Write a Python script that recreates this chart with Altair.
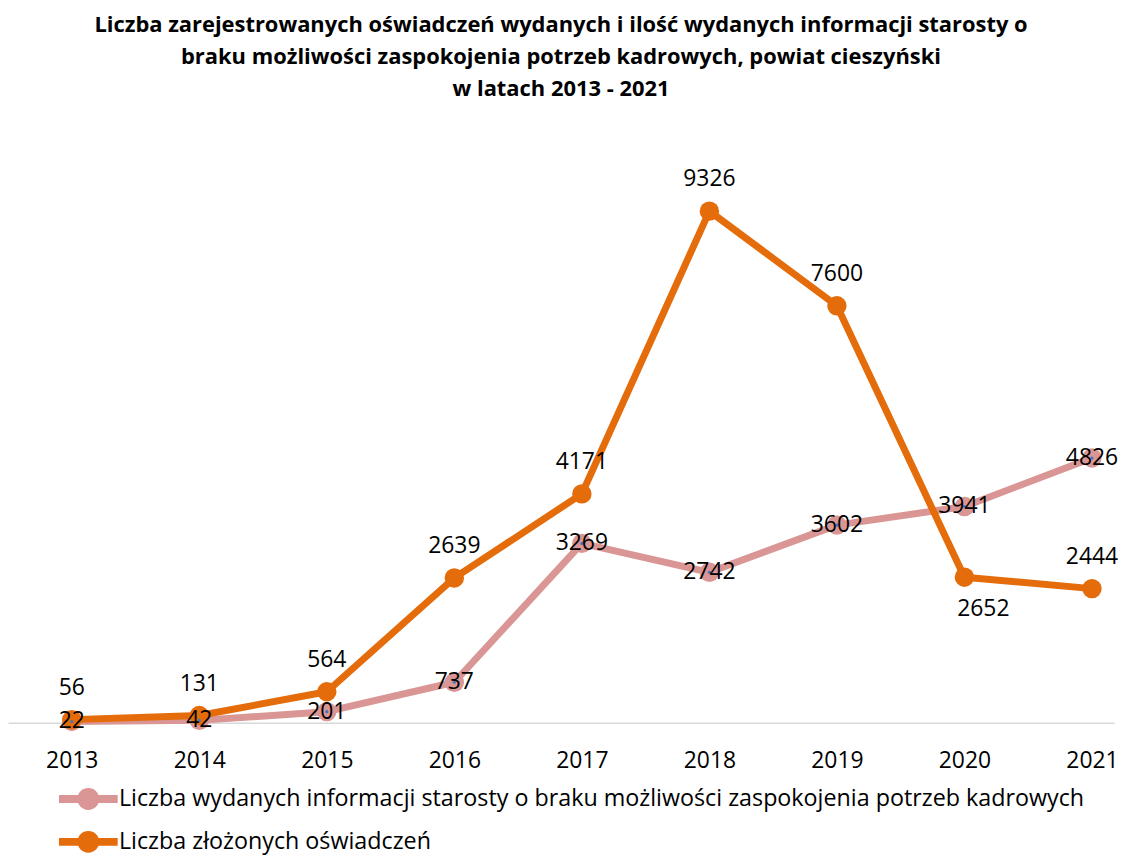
import altair as alt
import pandas as pd

years = [2013, 2014, 2015, 2016, 2017, 2018, 2019, 2020, 2021]
informacje = [22, 42, 201, 737, 3269, 2742, 3602, 3941, 4826]
oswiadczenia = [56, 131, 564, 2639, 4171, 9326, 7600, 2652, 2444]
oswiadczenia_label_pos = ["above", "above", "above", "above", "above", "above", "above", "below", "above"]

series_names = [
    "Liczba wydanych informacji starosty o braku możliwości zaspokojenia potrzeb kadrowych",
    "Liczba złożonych oświadczeń",
]
series_colors = ["#D99694", "#E46C0A"]
title_lines = [
    "Liczba zarejestrowanych oświadczeń wydanych i ilość wydanych informacji starosty o",
    "braku możliwości zaspokojenia potrzeb kadrowych, powiat cieszyński",
    "w latach 2013 - 2021",
]

rows = []
for i, y in enumerate(years):
    rows.append({"year": y, "series": series_names[0], "value": informacje[i], "pos": "center"})
for i, y in enumerate(years):
    rows.append({"year": y, "series": series_names[1], "value": oswiadczenia[i], "pos": oswiadczenia_label_pos[i]})
df = pd.DataFrame(rows)

FONT = "Open Sans"

x_enc = alt.X(
    "year:Q",
    scale=alt.Scale(domain=[2012.5, 2021.173], nice=False, zero=False),
    axis=alt.Axis(
        values=years, format="d", title=None, grid=False, ticks=False,
        domain=True, domainColor="#D9D9D9", domainWidth=1.5,
        labelFont=FONT, labelFontSize=23, labelColor="#000000", labelPadding=27,
        labelFlush=False,
    ),
)
y_enc = alt.Y("value:Q", scale=alt.Scale(domain=[0, 10000], nice=False), axis=None)

legend_symbol = (
    "M-2.68,-0.36L2.68,-0.36L2.68,0.36L-2.68,0.36Z"
    "M1,0A1,1,0,1,1,-1,0A1,1,0,1,1,1,0Z"
)

base = alt.Chart(df).encode(x=x_enc, y=y_enc)

line_pink = base.mark_line(strokeWidth=7, color=series_colors[0], strokeJoin="round").transform_filter(
    alt.datum.series == series_names[0]
)
line_orange = base.mark_line(strokeWidth=7, color=series_colors[1], strokeJoin="round").transform_filter(
    alt.datum.series == series_names[1]
)

points = base.mark_circle(size=380, opacity=1).encode(
    color=alt.Color(
        "series:N",
        scale=alt.Scale(domain=series_names, range=series_colors),
        legend=alt.Legend(
            title=None, orient="none", direction="vertical",
            legendX=69, legendY=616,
            symbolType=legend_symbol, symbolSize=484, symbolStrokeWidth=0,
            symbolOpacity=1,
            labelFont=FONT, labelFontSize=23.4, labelColor="#000000",
            labelOffset=19, rowPadding=18, labelLimit=1100,
        ),
    ),
)

blue_dots = base.mark_circle(size=10, color="#4472C4", opacity=1).transform_filter(
    alt.datum.series == series_names[0]
)

label_style = dict(font=FONT, fontSize=23, color="#000000", baseline="middle", align="center")

labels_center = base.mark_text(**label_style).encode(text="value:Q").transform_filter(
    alt.datum.pos == "center"
)
labels_above = base.mark_text(dy=-32, **label_style).encode(text="value:Q").transform_filter(
    alt.datum.pos == "above"
)
labels_below = base.mark_text(dy=32, dx=19, **label_style).encode(text="value:Q").transform_filter(
    alt.datum.pos == "below"
)

chart = (
    alt.layer(line_pink, points, line_orange, blue_dots, labels_center, labels_above, labels_below)
    .properties(
        width=1111,
        height=551,
        padding={"top": 4, "left": 0, "right": 0, "bottom": 0},
        title=alt.TitleParams(
            text=title_lines, font=FONT, fontSize=22, fontWeight="bold",
            color="#000000", anchor="middle", lineHeight=32, offset=68,
        ),
    )
    .configure_view(stroke=None)
)

chart.save("out.html", embed_options={"renderer": "svg", "actions": False})
